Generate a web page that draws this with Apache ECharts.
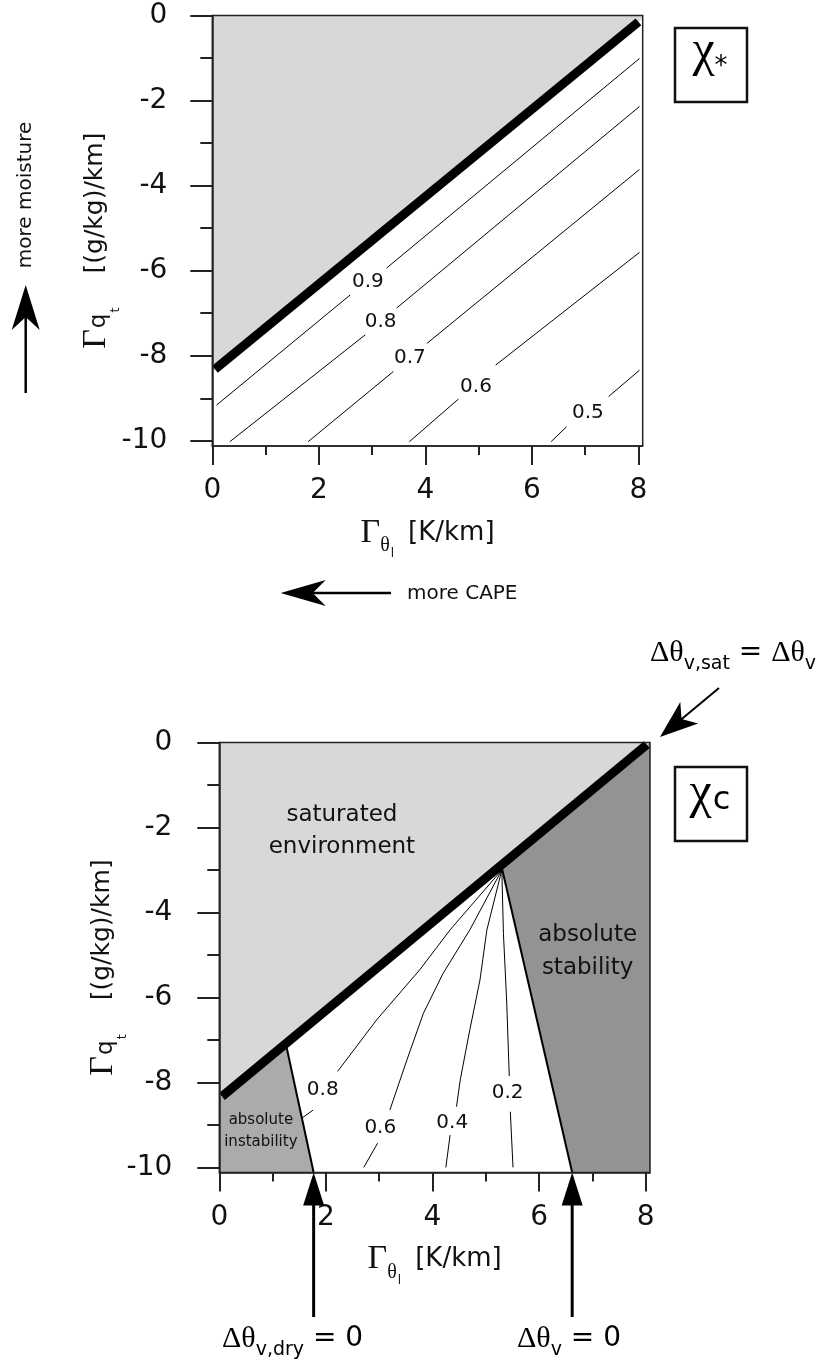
<!DOCTYPE html>
<html>
<head>
<meta charset="utf-8">
<script src="https://cdn.jsdelivr.net/npm/echarts@6/dist/echarts.min.js"></script>
<style>
  html, body { margin: 0; padding: 0; background: #fff; }
  #chart { width: 822px; height: 1367px; }
</style>
</head>
<body>
<div id="chart"></div>
<script>
// ---- values ----
// x: Gamma_theta_l [K/km], y: Gamma_qt [(g/kg)/km]
const xRange = [0, 8.08];
const yRange = [-10.12, 0];
const xMajor = [0, 2, 4, 6, 8];
const xMinor = [1, 3, 5, 7];
const yMajor = [0, -2, -4, -6, -8, -10];
const yMinor = [-1, -3, -5, -7, -9];

// upper panel (chi_*)
const topSatLine = [[0.05, -8.32], [8.0, -0.15]];
const topSatArea = [[0, 0], [8.08, 0], [8.08, -0.07], [0, -8.37]];
const chiStarLevels = ['0.9', '0.8', '0.7', '0.6', '0.5'];
const chiStarSegments = [
  [[[0.08, -9.16], [2.59, -6.57]], [[3.27, -5.94], [8.02, -1.01]]],
  [[[0.33, -10.02], [2.87, -7.51]], [[3.46, -6.88], [8.02, -2.14]]],
  [[[1.80, -10.02], [3.40, -8.37]], [[4.03, -7.71], [8.02, -3.62]]],
  [[[3.70, -10.02], [4.62, -9.02]], [[5.32, -8.22], [8.02, -5.57]]],
  [[[6.36, -10.02], [6.65, -9.67]], [[7.44, -8.96], [8.02, -8.34]]]
];
const chiStarLabelAt = [[2.92, -6.26], [3.16, -7.2], [3.71, -8.06], [4.95, -8.72], [7.05, -9.35]];

// lower panel (chi_c)
const botSatLine = [[0.05, -8.33], [8.02, -0.05]];
const botSatArea = [[0, 0], [8.08, 0], [0, -8.38]];
const instabArea = [[0, -8.38], [1.25, -7.08], [1.77, -10.12], [0, -10.12]];
const stabArea = [[5.3, -2.87], [8.08, 0], [8.08, -10.12], [6.62, -10.12], [5.3, -2.95]];
const dryEdge = [[1.25, -7.1], [1.77, -10.12]];   // d(theta_v,dry) = 0
const moistEdge = [[5.3, -2.95], [6.62, -10.12]]; // d(theta_v) = 0
const chiCLevels = ['0.8', '0.6', '0.4', '0.2'];
const chiCSegments = [
  [[[5.3, -3.0], [4.33, -4.41], [3.76, -5.35], [2.95, -6.53], [2.22, -7.74]], [[1.76, -8.65], [1.55, -8.84]]],
  [[[5.3, -3.0], [4.70, -4.41], [4.20, -5.43], [3.83, -6.37], [3.52, -7.47], [3.20, -8.65]], [[2.97, -9.43], [2.71, -10.0]]],
  [[[5.3, -3.0], [5.02, -4.41], [4.89, -5.59], [4.70, -6.76], [4.52, -7.94], [4.45, -8.57]], [[4.33, -9.24], [4.25, -10.0]]],
  [[[5.3, -3.0], [5.33, -4.49], [5.39, -6.06], [5.44, -7.85]], [[5.46, -8.69], [5.51, -10.0]]]
];
const chiCLabelAt = [[1.94, -8.18], [3.02, -9.07], [4.37, -8.96], [5.41, -8.25]];
const regionNames = ['saturated\nenvironment', 'absolute\nstability', 'absolute\ninstability'];
const regionAt = [[2.30, -2.08], [6.91, -4.92], [0.78, -9.14]];

const SANS = 'DejaVu Sans';
const SERIF = 'Liberation Serif';
const INK = '#111';

const chart = echarts.init(document.getElementById('chart'));

function axesOf(g) {
  return { xAxisIndex: 2 * g, yAxisIndex: 2 * g };
}

const xName = '{g|Γ}{th|θ}{l|l}{u|[K/km]}';
const xNameRich = {
  g: { fontFamily: SERIF, fontSize: 34, color: INK },
  th: { fontFamily: SERIF, fontSize: 20, color: INK, padding: [26, 0, 0, 0] },
  l: { fontFamily: SANS, fontSize: 12, color: INK, padding: [42, 0, 0, 1] },
  u: { fontFamily: SANS, fontSize: 26, color: INK, padding: [0, 0, 0, 14] }
};
const yName = '{g|Γ}{q|q}{t|t}{u|[(g/kg)/km]}';
const yNameRich = {
  g: { fontFamily: SERIF, fontSize: 34, color: INK },
  q: { fontFamily: SANS, fontSize: 23, color: INK, padding: [6, 0, 0, 1] },
  t: { fontFamily: SANS, fontSize: 13, color: INK, padding: [40, 0, 0, 1] },
  u: { fontFamily: SANS, fontSize: 25, color: INK, padding: [0, 0, 0, 34] }
};

function xAxes(g) {
  const base = {
    type: 'value', gridIndex: g, min: xRange[0], max: xRange[1], position: 'bottom', z: 10,
    splitLine: { show: false }
  };
  return [
    Object.assign({}, base, {
      axisLine: { show: true, onZero: false, lineStyle: { color: '#222', width: 1.5 } },
      axisTick: { show: true, customValues: xMajor, length: 19, lineStyle: { color: '#222', width: 2 } },
      axisLabel: { show: true, customValues: xMajor, margin: 31, fontFamily: SANS, fontSize: 28, color: INK },
      name: xName, nameLocation: 'middle', nameGap: 60, nameMoveOverlap: false,
      nameTextStyle: { rich: xNameRich }
    }),
    Object.assign({}, base, {
      axisLine: { show: false, onZero: false },
      axisTick: { show: true, customValues: xMinor, length: 9, lineStyle: { color: '#222', width: 2 } },
      axisLabel: { show: false }
    })
  ];
}

function yAxes(g) {
  const base = {
    type: 'value', gridIndex: g, min: yRange[0], max: yRange[1], position: 'left', z: 10,
    splitLine: { show: false }
  };
  return [
    Object.assign({}, base, {
      axisLine: { show: true, onZero: false, lineStyle: { color: '#222', width: 1.5 } },
      axisTick: { show: true, customValues: yMajor, length: 22, lineStyle: { color: '#222', width: 2 } },
      axisLabel: { show: true, customValues: yMajor, margin: g ? 47 : 45, fontFamily: SANS, fontSize: 28, color: INK, padding: [8, 0, 0, 0] },
      name: yName, nameLocation: 'middle', nameGap: 90, nameRotate: 90, nameMoveOverlap: false,
      nameTextStyle: { rich: yNameRich, padding: [0, 20, 0, 0] }
    }),
    Object.assign({}, base, {
      axisLine: { show: false, onZero: false },
      axisTick: { show: true, customValues: yMinor, length: 12, lineStyle: { color: '#222', width: 2 } },
      axisLabel: { show: false }
    })
  ];
}

function area(g, pts, color) {
  return Object.assign({
    type: 'custom', silent: true, z: 1, animation: false,
    data: [pts[0]],
    renderItem: (params, api) => ({
      type: 'polygon',
      shape: { points: pts.map(p => api.coord(p)) },
      style: { fill: color }
    })
  }, axesOf(g));
}

function polyline(g, pts, width, z) {
  return Object.assign({
    type: 'line', data: pts, symbol: 'none', silent: true, animation: false, z: z,
    lineStyle: { width: width, color: '#000', cap: 'butt' }
  }, axesOf(g));
}

// text placed at data coordinates
function textMarks(g, at, names, fontSize, lineHeight) {
  return Object.assign({
    type: 'custom', silent: true, animation: false, z: 6,
    data: at.map((p, i) => [p[0], p[1], i]),
    renderItem: (params, api) => {
      const pt = api.coord([api.value(0), api.value(1)]);
      return {
        type: 'text', x: pt[0], y: pt[1],
        style: {
          text: names[api.value(2)], fontFamily: SANS, fontSize: fontSize, lineHeight: lineHeight,
          fill: INK, align: 'center', verticalAlign: 'middle'
        }
      };
    }
  }, axesOf(g));
}

const series = [];
// upper panel
series.push(area(0, topSatArea, '#d8d8d8'));
chiStarSegments.forEach(segs => segs.forEach(s => series.push(polyline(0, s, 1, 3))));
series.push(polyline(0, topSatLine, 9, 4));
series.push(textMarks(0, chiStarLabelAt, chiStarLevels, 20, 22));
// lower panel
series.push(area(1, botSatArea, '#d8d8d8'));
series.push(area(1, instabArea, '#ababab'));
series.push(area(1, stabArea, '#939393'));
chiCSegments.forEach(segs => segs.forEach(s => series.push(polyline(1, s, 1, 3))));
series.push(polyline(1, dryEdge, 2, 3));
series.push(polyline(1, moistEdge, 2, 3));
series.push(polyline(1, botSatLine, 9, 4));
series.push(textMarks(1, chiCLabelAt, chiCLevels, 20, 22));
series.push(textMarks(1, regionAt.slice(0, 1), regionNames.slice(0, 1), 23, 32));
series.push(textMarks(1, regionAt.slice(1, 2), regionNames.slice(1, 2), 23, 33));
series.push(textMarks(1, regionAt.slice(2), regionNames.slice(2), 15, 22));

const gridBase = { show: true, borderColor: '#222', borderWidth: 1.5, backgroundColor: 'rgba(0,0,0,0)', z: 10, outerBoundsMode: 'none', containLabel: false };

chart.setOption({
  animation: false,
  backgroundColor: '#fff',
  grid: [
    Object.assign({ left: 212.3, top: 15.5, width: 430.4, height: 430.4 }, gridBase),
    Object.assign({ left: 219.3, top: 742.5, width: 430.7, height: 430 }, gridBase)
  ],
  xAxis: xAxes(0).concat(xAxes(1)),
  yAxis: yAxes(0).concat(yAxes(1)),
  series: series
});

// ---- annotations: boxes, arrows, notes ----
function arrow(tip, tail, L, W, N, shaftW) {
  const dx = tail[0] - tip[0], dy = tail[1] - tip[1];
  const len = Math.hypot(dx, dy);
  const ux = dx / len, uy = dy / len, nx = -uy, ny = ux;
  const head = [
    tip,
    [tip[0] + ux * L + nx * W, tip[1] + uy * L + ny * W],
    [tip[0] + ux * N, tip[1] + uy * N],
    [tip[0] + ux * L - nx * W, tip[1] + uy * L - ny * W]
  ];
  return [
    { type: 'line', shape: { x1: tip[0] + ux * N * 0.8, y1: tip[1] + uy * N * 0.8, x2: tail[0], y2: tail[1] }, style: { stroke: '#000', lineWidth: shaftW } },
    { type: 'polygon', shape: { points: head }, style: { fill: '#000' } }
  ];
}

const annRich = {
  d: { fontFamily: SERIF, fontSize: 30, color: INK },
  s: { fontFamily: SANS, fontSize: 19, color: INK, padding: [22, 0, 0, 0] },
  r: { fontFamily: SANS, fontSize: 28, color: INK }
};
const chiRich = {
  c: { fontFamily: SERIF, fontSize: 50, color: INK },
  a: { fontFamily: SANS, fontSize: 26, color: INK, padding: [30, 0, 0, 0] },
  b: { fontFamily: SANS, fontSize: 32, color: INK, padding: [14, 0, 0, 1] }
};

function note(x, y, text, rich, align) {
  return { type: 'text', x: x, y: y, z: 20, style: { text: text, rich: rich, align: align || 'left', verticalAlign: 'middle' } };
}

const dryTip = chart.convertToPixel({ xAxisIndex: 2, yAxisIndex: 2 }, dryEdge[1]);
const moistTip = chart.convertToPixel({ xAxisIndex: 2, yAxisIndex: 2 }, moistEdge[1]);

const graphics = [
  { type: 'rect', shape: { x: 675, y: 28, width: 72, height: 74 }, style: { fill: 'none', stroke: INK, lineWidth: 2.5 } },
  note(710, 52, '{c|χ}{a|*}', chiRich, 'center'),
  { type: 'rect', shape: { x: 675, y: 767, width: 72, height: 74 }, style: { fill: 'none', stroke: INK, lineWidth: 2.5 } },
  note(710, 794, '{c|χ}{b|c}', chiRich, 'center'),
  { type: 'text', x: 26, y: 195, rotation: Math.PI / 2, style: { text: 'more moisture', fontFamily: SANS, fontSize: 20, fill: INK, align: 'center', verticalAlign: 'middle' } },
  { type: 'text', x: 407, y: 594, style: { text: 'more CAPE', fontFamily: SANS, fontSize: 20, fill: INK, align: 'left', verticalAlign: 'middle' } },
  note(650, 653, '{d|Δθ}{s|v,sat}{r| = }{d|Δθ}{s|v}', annRich),
  note(222, 1339, '{d|Δθ}{s|v,dry}{r| = 0}', annRich),
  note(517, 1339, '{d|Δθ}{s|v}{r| = 0}', annRich)
]
  .concat(arrow([25.7, 285], [25.7, 393], 45, 14, 32, 2.5))
  .concat(arrow([280.7, 593], [391, 593], 45, 13, 32, 2.5))
  .concat(arrow([660, 737], [719, 688], 38, 14, 28, 2))
  .concat(arrow(dryTip, [dryTip[0], 1317], 33, 10.5, 33, 3))
  .concat(arrow(moistTip, [moistTip[0], 1317], 33, 10.5, 33, 3));

chart.setOption({ graphic: graphics });
</script>
</body>
</html>
